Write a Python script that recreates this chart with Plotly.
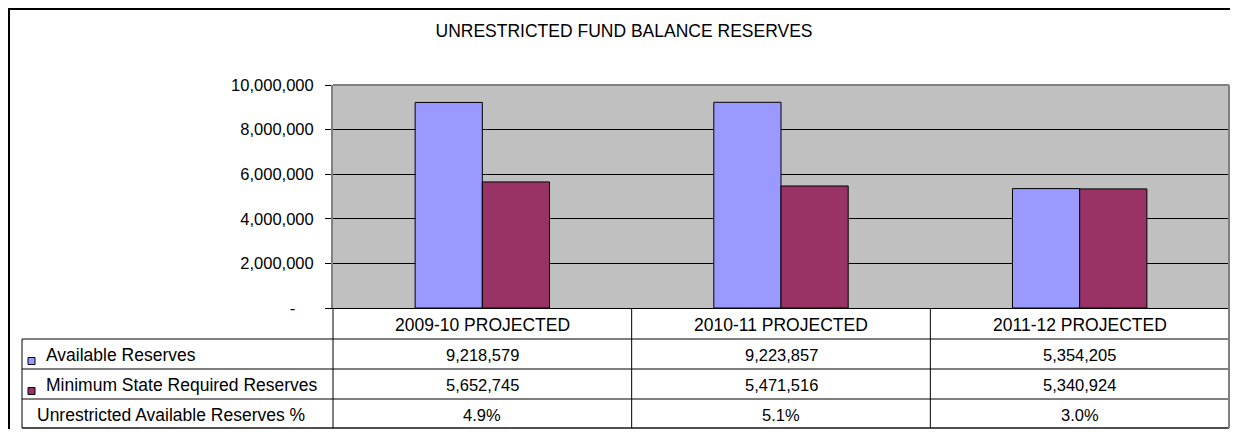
import plotly.graph_objects as go

# ---------------- data ----------------
categories = ["2009-10 PROJECTED", "2010-11 PROJECTED", "2011-12 PROJECTED"]
available_reserves = [9218579, 9223857, 5354205]
min_state_required = [5652745, 5471516, 5340924]
unrestricted_pct = [4.9, 5.1, 3.0]
series_names = ["Available Reserves", "Minimum State Required Reserves",
                "Unrestricted Available Reserves %"]
y_tick_values = [0, 2000000, 4000000, 6000000, 8000000, 10000000]
title_text = "UNRESTRICTED FUND BALANCE RESERVES"

# ---------------- styles / layout constants (screen pixels) ----------------
OFF = 8                                      # page body margin
SCREEN_W, SCREEN_H = 1238, 437
FIG_W, FIG_H = SCREEN_W - 2 * OFF, SCREEN_H - 2 * OFF
PL, PR, PT, PB = 333, 1229, 85, 308          # plot area
ROW_LINES = [339, 369, 399, 428]             # bottoms of table rows
TABLE_LEFT = 22
FONT = "Liberation Sans, Arial, sans-serif"
FS_NUM = 16.5
FS_TXT = 17.5
COL_BLUE = "#9999FF"
COL_RED = "#993366"
GRAY = "#808080"


def px(x):
    return (x - PL) / (PR - PL)


def py(y):
    return (PB - y) / (PB - PT)


fig = go.Figure()
fig.add_trace(go.Bar(x=categories, y=available_reserves, name=series_names[0],
                     marker=dict(color=COL_BLUE, line=dict(color="black", width=1))))
fig.add_trace(go.Bar(x=categories, y=min_state_required, name=series_names[1],
                     marker=dict(color=COL_RED, line=dict(color="black", width=1))))

tick_text = ["-" + "\u00a0" * 4 if v == 0 else f"{v:,}" for v in y_tick_values]

shapes = []
annotations = []

# outer chart border (runs off right / bottom edges)
shapes.append(dict(type="rect", xref="paper", yref="paper",
                   x0=px(OFF + 1), x1=px(SCREEN_W + 20), y0=py(OFF + 1), y1=py(SCREEN_H + 20),
                   line=dict(color="black", width=2), fillcolor="rgba(0,0,0,0)"))
# plot area top / right borders
shapes.append(dict(type="line", xref="paper", yref="paper", x0=0, x1=1, y0=1, y1=1,
                   line=dict(color=GRAY, width=2)))
shapes.append(dict(type="line", xref="paper", yref="paper", x0=1, x1=1, y0=0, y1=1,
                   line=dict(color=GRAY, width=2)))

# table horizontal lines
for i, yl in enumerate(ROW_LINES):
    last = i == len(ROW_LINES) - 1
    shapes.append(dict(type="line", xref="paper", yref="paper",
                       x0=px(TABLE_LEFT), x1=1, y0=py(yl), y1=py(yl),
                       line=dict(color="#505050" if last else "black", width=2 if last else 1)))
# table vertical lines
shapes.append(dict(type="line", xref="paper", yref="paper", x0=px(TABLE_LEFT), x1=px(TABLE_LEFT),
                   y0=py(ROW_LINES[0]), y1=py(ROW_LINES[-1]), line=dict(color="black", width=1)))
n = len(categories)
for i in range(n + 1):
    xx = i / n
    last = i == n
    shapes.append(dict(type="line", xref="paper", yref="paper", x0=xx, x1=xx,
                       y0=0, y1=py(ROW_LINES[-1]),
                       line=dict(color=GRAY if last else "black", width=2 if last else 1)))

# header + values
row_centers = [(PB + ROW_LINES[0]) / 2] + [
    (ROW_LINES[k] + ROW_LINES[k + 1]) / 2 for k in range(len(ROW_LINES) - 1)]
rows = [categories,
        [f"{v:,}" for v in available_reserves],
        [f"{v:,}" for v in min_state_required],
        [f"{v:.1f}%" for v in unrestricted_pct]]
for r, texts in enumerate(rows):
    for c, t in enumerate(texts):
        annotations.append(dict(xref="x", yref="paper", x=categories[c], y=py(row_centers[r] + 1),
                                text=t, showarrow=False, xanchor="center", yanchor="middle",
                                font=dict(family=FONT, size=FS_TXT if r == 0 else FS_NUM,
                                          color="black")))

# row labels with legend keys
key_colors = [COL_BLUE, COL_RED, None]
for k, name in enumerate(series_names):
    yc = row_centers[k + 1]
    annotations.append(dict(xref="paper", yref="paper", x=px(44 if key_colors[k] else 35),
                            y=py(yc + 1), text=name,
                            showarrow=False, xanchor="left", yanchor="middle",
                            font=dict(family=FONT, size=FS_TXT, color="black")))
    if key_colors[k]:
        shapes.append(dict(type="rect", xref="paper", yref="paper",
                           x0=px(28), x1=px(35), y0=py(yc + 10.5), y1=py(yc + 3.5),
                           fillcolor=key_colors[k], line=dict(color="black", width=1)))

fig.update_layout(
    width=FIG_W, height=FIG_H, autosize=False,
    margin=dict(l=PL - OFF, r=FIG_W - (PR - OFF), t=PT - OFF, b=FIG_H - (PB - OFF), pad=0),
    paper_bgcolor="white", plot_bgcolor="#C0C0C0",
    barmode="group", bargap=0.55, bargroupgap=0,
    showlegend=False,
    font=dict(family=FONT, size=FS_NUM, color="black"),
    title=dict(text=title_text, x=(624 - OFF) / FIG_W, y=1 - (31 - OFF) / FIG_H,
               xref="container", yref="container", xanchor="center", yanchor="middle",
               font=dict(family=FONT, size=FS_TXT, color="black")),
    xaxis=dict(showticklabels=False, ticks="", showgrid=False, zeroline=False,
               showline=True, linecolor="black", linewidth=1, range=[-0.5, n - 0.5]),
    yaxis=dict(range=[0, y_tick_values[-1]], tickvals=y_tick_values, ticktext=tick_text,
               ticks="outside", ticklen=6, tickcolor="black", tickwidth=1,
               ticklabelstandoff=8,
               showgrid=True, gridcolor="black", gridwidth=1,
               zeroline=True, zerolinecolor="black", zerolinewidth=1,
               showline=True, linecolor=GRAY, linewidth=2,
               tickfont=dict(family=FONT, size=FS_NUM, color="black")),
    shapes=shapes, annotations=annotations,
)

fig.write_html("out.html")
